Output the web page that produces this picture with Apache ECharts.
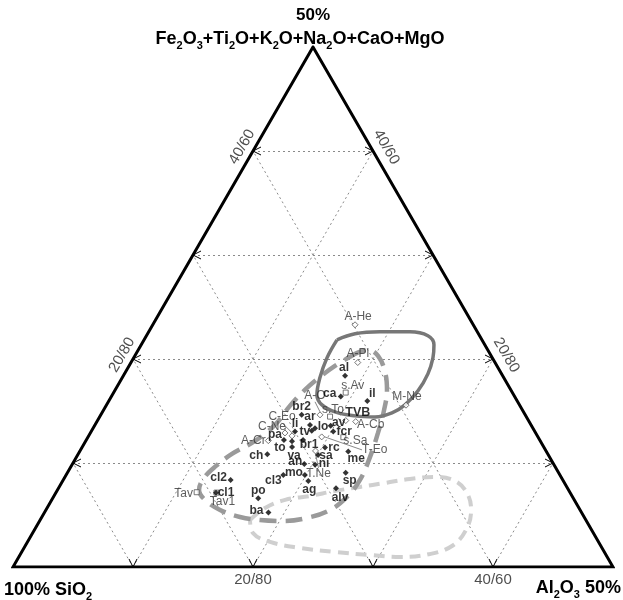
<!DOCTYPE html>
<html><head><meta charset="utf-8">
<script src="https://cdn.jsdelivr.net/npm/echarts@6/dist/echarts.min.js"></script>
<style>html,body{margin:0;padding:0;background:#fff}#c{width:623px;height:600px}</style>
</head><body><div id="c"></div>
<script>
// Ternary values: [Al2O3 %, (Fe2O3+TiO2+K2O+Na2O+CaO+MgO) %]; SiO2 = 100 - both
const sampleNames = ['al','ca','il','br2','ar','lo','tv','av','fcr','li','pa','to','va','br1','ch','rc','sa','ni','me','an','mo','cl3','ag','sp','alv','cl2','cl1','po','ba'];
const sampleAl = [18.48,19.12,21.54,16.74,17.92,18.49,18.35,19.69,20.18,16.99,16.47,17.21,17.48,18.06,15.78,20.26,20.03,20.26,22.39,19.32,19.9,18.1,20.47,23.19,23.13,13.95,13.34,17.13,18.67];
const sampleFe = [18.38,16.39,15.97,14.63,13.66,13.35,13.09,13.57,13.02,13.02,12.22,12.08,11.55,12.22,10.83,11.48,10.78,9.82,11.1,9.91,8.85,8.85,8.28,9.07,7.57,8.37,7.15,6.61,5.23];

const refNames = ['A-He','A-Pl','s.Av','M-Ne','A-O','s.To','A-Cb','s.Sa','T-Eo','C-Eo','C-Ne','A-Cr','T.Ne','Tav','Tav1','TVB'];
const refAl = [16.86,18.9,19.34,24.97,18.27,19.19,21.57,21.29,19.47,16.95,16.22,15.2,19.63,11.71,13.38,20.69];
const refFe = [23.29,19.66,16.77,15.56,14.63,14.46,13.98,12.48,12.51,12.61,12.89,12.15,11.16,7.19,7.15,14.08];

const solidAl = [16.08,17.29,19.27,21.77,23.46,24.4,24.94,25.29,25.28,24.87,24.17,22.95,21.23,19.37,17.95,17.05,16.48,16.11,16.08];
const solidFe = [21.84,22.42,22.61,22.61,22.23,21.36,20.11,18.57,16.94,15.59,14.82,14.43,14.53,14.92,15.59,16.55,18.19,20.11,21.84];

const dashAl = [17.98,19.14,20.27,21.62,22.65,23.37,23.97,24.46,24.73,24.46,23.68,22.14,20.29,18.32,16.51,14.51,12.78,11.8,11.64,12.06,12.81,14.11,15,15.33,15.81,16.44,17.16,17.98];
const dashFe = [20.21,20.88,20.3,18.76,17.03,15.11,12.89,10.59,8.37,6.74,5.49,4.72,4.43,4.52,4.81,5.49,6.45,7.41,8.56,9.72,10.87,12.12,13.66,15.49,17.03,18.28,19.34,20.21];

const lightAl = [17.49,18.16,19.45,21.33,23.17,25.07,26.96,28.85,30.84,32.69,34.27,35.43,35.97,35.57,34.12,31.77,29.17,26.11,23.01,20.22,18.36,17.49];
const lightFe = [4.52,5.68,6.45,6.83,7.31,7.7,8.08,8.47,8.66,8.28,7.12,5.49,3.56,2.02,1.25,0.96,1.15,1.44,1.83,2.41,3.27,4.52];

const gridSteps = [10,20,30,40];
const bottomTickLabels = {20:'20/80', 40:'40/60'};
const leftTickLabels = {20:'20/80', 40:'40/60'};
const rightTickLabels = {20:'20/80', 40:'40/60'};

// ---- layout / style (not data) ----
const labelOffsets = {
 al:[-1,-8], ca:[-11,-3], il:[5,-7], br2:[0,-8], ar:[0,-8], lo:[8,-1], tv:[-7,1], av:[8,-3], fcr:[11,0], li:[0,-8], pa:[-9,-5], to:[-12,6], va:[2,9], br1:[6,5], ch:[-11,1], rc:[9,0], sa:[8,1], ni:[9,-1], me:[8,7], an:[-9,-2], mo:[-11,-2], cl3:[-10,6], ag:[1,9], sp:[4,8], alv:[4,9], cl2:[-12,-2], cl1:[10,0], po:[0,-8], ba:[-12,-2], TVB:[12,-8],
 'A-He':[3,-8], 'A-Pl':[0,-9], 's.Av':[7,-7], 'M-Ne':[1,-8], 'A-O':[-5,-19], 's.To':[3,-7], 'A-Cb':[15,3], 's.Sa':[12,3], 'T-Eo':[53,13], 'C-Eo':[-10,-19], 'C-Ne':[-13,-6], 'A-Cr':[-15,0], 'T.Ne':[3,23], 'Tav':[-13,1], 'Tav1':[6,9]
};
const squareRefs = ['s.Av','s.To','s.Sa','Tav','Tav1'];
const leaderRefs = ['A-O','T-Eo','C-Eo','C-Ne','T.Ne'];
const FONT = 'Liberation Sans, Arial, sans-serif';

const SQ = Math.sqrt(3) / 2;
const toXY = (a, f) => [a + f / 2, f * SQ];

function layoutFor(names) {
  return function (p) {
    const o = labelOffsets[names[p.dataIndex]] || [8, 0];
    return { x: p.rect.x + p.rect.width / 2 + o[0], y: p.rect.y + p.rect.height / 2 + o[1], align: 'center', verticalAlign: 'middle' };
  };
}

const gridLines = [];
gridSteps.forEach(k => {
  gridLines.push({ coords: [toXY(0, k), toXY(50 - k, k)] });
  gridLines.push({ coords: [toXY(k, 0), toXY(k, 50 - k)] });
  gridLines.push({ coords: [toXY(k, 0), toXY(0, k)] });
});

const chevrons = [];
gridSteps.forEach(k => {
  chevrons.push([...toXY(k, 0), 0]);
  chevrons.push([...toXY(0, k), 1]);
  chevrons.push([...toXY(50 - k, k), 2]);
});

const tickLabelData = [];
gridSteps.forEach(k => {
  if (bottomTickLabels[k]) tickLabelData.push({ value: toXY(k, 0), name: bottomTickLabels[k], label: { offset: [0, 13], rotate: 0 } });
  if (leftTickLabels[k]) tickLabelData.push({ value: toXY(0, k), name: leftTickLabels[k], label: { offset: [-2, -11.5], rotate: 60 } });
  if (rightTickLabels[k]) tickLabelData.push({ value: toXY(50 - k, k), name: rightTickLabels[k], label: { offset: [3.4, -13.4], rotate: -60 } });
});

const curve = (al, fe) => al.map((a, i) => toXY(a, fe[i]));

const richBig = (size) => ({
  a: { fontSize: size, fontWeight: 'bold', fontFamily: FONT, lineHeight: 24, verticalAlign: 'middle', fill: '#000' },
  s: { fontSize: Math.round(size * 0.6), fontWeight: 'bold', fontFamily: FONT, lineHeight: 24, verticalAlign: 'bottom', fill: '#000' }
});

const chart = echarts.init(document.getElementById('c'), null, { renderer: 'canvas' });
chart.setOption({
  backgroundColor: '#fff',
  animation: false,
  grid: { left: 13, top: 47, width: 600, height: 520 },
  xAxis: { type: 'value', min: 0, max: 50, show: false },
  yAxis: { type: 'value', min: 0, max: 50 * SQ, show: false },
  graphic: [
    { type: 'text', x: 313, y: 15, style: { text: '50%', font: 'bold 17px ' + FONT, fill: '#000', textAlign: 'center', textVerticalAlign: 'middle' } },
    { type: 'text', x: 300, y: 39, style: {
      text: '{a|Fe}{s|2}{a|O}{s|3}{a|+Ti}{s|2}{a|O+K}{s|2}{a|O+Na}{s|2}{a|O+CaO+MgO}',
      textAlign: 'center', textVerticalAlign: 'middle', rich: richBig(18) } },
    { type: 'text', x: 4, y: 590, style: {
      text: '{a|100% SiO}{s|2}', textAlign: 'left', textVerticalAlign: 'middle', rich: richBig(18) } },
    { type: 'text', x: 621, y: 588, style: {
      text: '{a|Al}{s|2}{a|O}{s|3}{a| 50%}', textAlign: 'right', textVerticalAlign: 'middle', rich: richBig(18) } }
  ],
  series: [
    { type: 'lines', coordinateSystem: 'cartesian2d', silent: true, z: 1,
      lineStyle: { color: '#8a8a8a', width: 1, type: [2, 3], opacity: 1 }, data: gridLines },
    { type: 'line', data: curve(lightAl, lightFe), smooth: 0.4, symbol: 'none', z: 2, silent: true,
      lineStyle: { color: '#cfcfcf', width: 4, type: [11, 7] } },
    { type: 'line', data: curve(dashAl, dashFe), smooth: 0.4, symbol: 'none', z: 2, silent: true,
      lineStyle: { color: '#9a9a9a', width: 4.5, type: [17, 9] } },
    { type: 'line', data: curve(solidAl, solidFe), smooth: 0.4, symbol: 'none', z: 2, silent: true,
      lineStyle: { color: '#777', width: 3.5 } },
    { type: 'lines', coordinateSystem: 'cartesian2d', polyline: true, silent: true, z: 5,
      lineStyle: { color: '#000', width: 3, opacity: 1, join: 'miter' },
      data: [{ coords: [toXY(0, 0), toXY(50, 0), toXY(0, 50), toXY(0, 0), toXY(50, 0)] }] },
    { type: 'custom', z: 6, silent: true, data: chevrons,
      renderItem: function (params, api) {
        const p = api.coord([api.value(0), api.value(1)]);
        const d = api.value(2);
        let pts;
        if (d === 0) pts = [[p[0] - 4, p[1] - 8], [p[0], p[1]], [p[0] + 4, p[1] - 8]];
        else if (d === 1) pts = [[p[0] + 8, p[1] - 4], [p[0], p[1]], [p[0] + 8, p[1] + 4]];
        else pts = [[p[0] - 8, p[1] - 4], [p[0], p[1]], [p[0] - 8, p[1] + 4]];
        return { type: 'polyline', shape: { points: pts }, style: { stroke: '#000', lineWidth: 1, fill: null } };
      } },
    { type: 'scatter', symbolSize: 0, z: 6, silent: true, data: tickLabelData,
      label: { show: true, position: 'inside', formatter: '{b}', color: '#222', fontSize: 15, fontFamily: FONT } },
    { type: 'scatter', z: 8, silent: true, symbol: 'diamond', symbolSize: 6,
      itemStyle: { color: '#fff', borderColor: '#555', borderWidth: 1 },
      data: refNames.map((n, i) => ({ name: n, value: toXY(refAl[i], refFe[i]),
        symbol: squareRefs.includes(n) ? 'rect' : 'diamond',
        symbolSize: squareRefs.includes(n) ? 5 : 6,
        label: n === 'TVB' ? { fontWeight: 'bold', color: '#000', fontSize: 12.5 } : undefined,
        labelLine: { show: leaderRefs.includes(n) } })),
      label: { show: true, formatter: '{b}', color: '#333', fontSize: 12, fontFamily: FONT },
      labelLine: { show: false, lineStyle: { color: '#888', width: 1 } },
      labelLayout: layoutFor(refNames) },
    { type: 'scatter', z: 9, silent: true, symbol: 'diamond', symbolSize: 6,
      itemStyle: { color: '#000' },
      data: sampleNames.map((n, i) => ({ name: n, value: toXY(sampleAl[i], sampleFe[i]) })),
      label: { show: true, formatter: '{b}', color: '#000', fontSize: 12, fontWeight: 'bold', fontFamily: FONT },
      labelLayout: layoutFor(sampleNames) }
  ]
});
</script></body></html>
